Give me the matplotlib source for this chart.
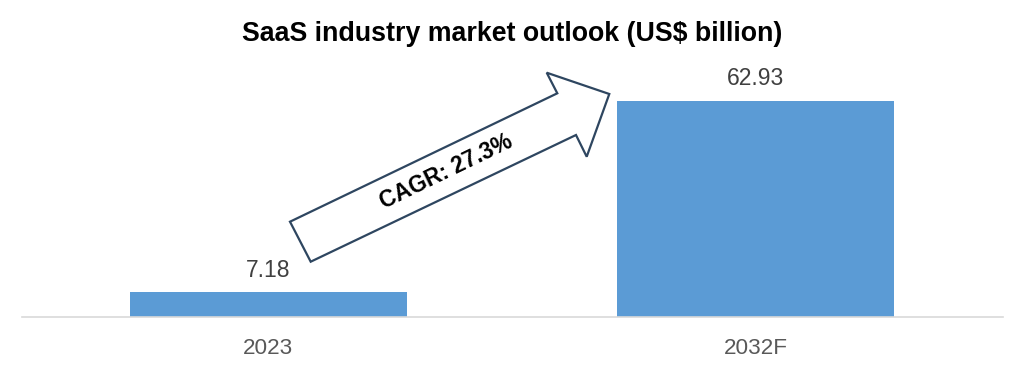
import matplotlib
matplotlib.use("Agg")
import matplotlib.pyplot as plt
from matplotlib.patches import Polygon
from matplotlib.transforms import IdentityTransform

categories = ["2023", "2032F"]
values = [7.18, 62.93]
value_labels = ["7.18", "62.93"]
title = "SaaS industry market outlook (US$ billion)"
cagr_text = "CAGR: 27.3%"

plt.rcParams['font.family'] = ['Liberation Sans', 'DejaVu Sans']

W, H = 1024, 371
fig = plt.figure(figsize=(W / 100, H / 100), dpi=100)
ax = fig.add_axes([22 / W, 1 - 317 / H, (1003 - 22) / W, (317 - 60) / H])

x = list(range(len(categories)))
ax.bar(x, values, width=0.57, color="#5B9BD5", zorder=2)
ax.set_xlim(-0.506, 1.508)
ax.set_ylim(0, 74.87)

for xi, v, lab in zip(x, values, value_labels):
    ax.annotate(lab, (xi, v), xytext=(0, 16), textcoords="offset points",
                ha="center", va="center", fontsize=16.5, color="#404040")

ax.set_xticks(x)
ax.set_xticklabels(categories, fontsize=16.2, color="#595959")
ax.tick_params(axis="x", length=0, pad=15)
ax.set_yticks([])
for s in ["top", "left", "right"]:
    ax.spines[s].set_visible(False)
ax.spines["bottom"].set_color("#D9D9D9")
ax.spines["bottom"].set_linewidth(1.2)

fig.text(0.5, 1 - 34 / H, title, ha="center", va="center",
         fontsize=19.3, fontweight="bold", color="black")

# Arrow annotation in pixel coordinates (top-left origin)
pts = [(310.7, 261.7), (290, 221.7), (557.3, 93.3), (546.7, 72.7),
       (609.3, 94), (586.7, 156.7), (576, 135)]
pix = [(px, H - py) for px, py in pts]
poly = Polygon(pix, closed=True, facecolor="white", edgecolor="#2E4660",
               linewidth=1.6, zorder=5)
poly.set_transform(IdentityTransform())
fig.patches.append(poly)

fig.text(446 / W, 1 - 172 / H, cagr_text, ha="center", va="center",
         rotation=25.8, rotation_mode="anchor", fontsize=16.3,
         fontweight="bold", color="black", zorder=6)

fig.savefig("out.png", dpi=100)
